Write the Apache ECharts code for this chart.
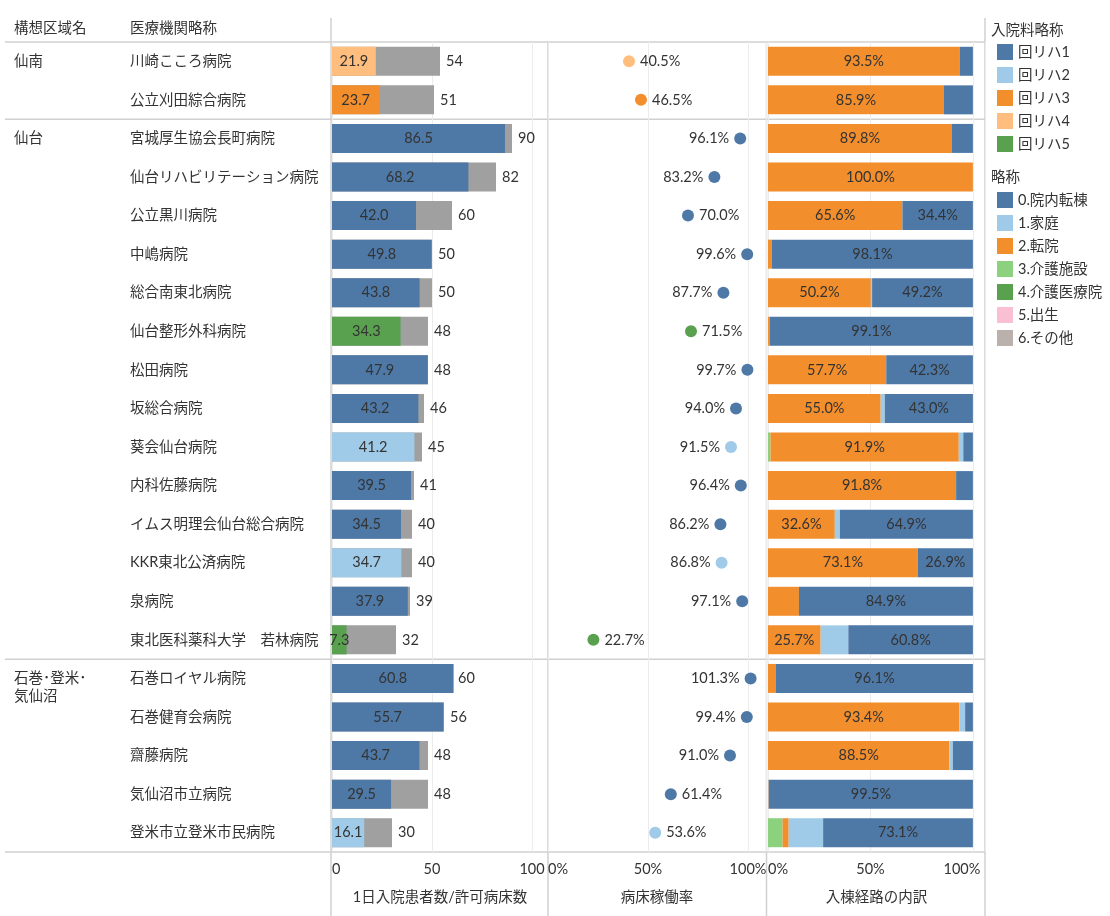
<!DOCTYPE html>
<html lang="ja">
<head>
<meta charset="UTF-8">
<title>回復期リハビリテーション病棟</title>
<script src="https://cdn.jsdelivr.net/npm/echarts@6/dist/echarts.min.js"></script>
<style>
  html, body { margin: 0; padding: 0; background: #fff; }
  #chart { width: 1110px; height: 916px; }
</style>
</head>
<body>
<div id="chart"></div>
<script>
// ---- data ----
const hospitals = [
  '川崎こころ病院', '公立刈田綜合病院',
  '宮城厚生協会長町病院', '仙台リハビリテーション病院', '公立黒川病院', '中嶋病院',
  '総合南東北病院', '仙台整形外科病院', '松田病院', '坂総合病院', '葵会仙台病院',
  '内科佐藤病院', 'イムス明理会仙台総合病院', 'KKR東北公済病院', '泉病院',
  '東北医科薬科大学\u3000若林病院',
  '石巻ロイヤル病院', '石巻健育会病院', '齋藤病院', '気仙沼市立病院', '登米市立登米市民病院'
];
const regions = [
  '仙南', '仙南',
  '仙台', '仙台', '仙台', '仙台', '仙台', '仙台', '仙台', '仙台', '仙台', '仙台', '仙台', '仙台', '仙台', '仙台',
  '石巻･登米･気仙沼', '石巻･登米･気仙沼', '石巻･登米･気仙沼', '石巻･登米･気仙沼', '石巻･登米･気仙沼'
];
const patients  = [21.9, 23.7, 86.5, 68.2, 42.0, 49.8, 43.8, 34.3, 47.9, 43.2, 41.2, 39.5, 34.5, 34.7, 37.9, 7.3, 60.8, 55.7, 43.7, 29.5, 16.1];
const beds      = [54, 51, 90, 82, 60, 50, 50, 48, 48, 46, 45, 41, 40, 40, 39, 32, 60, 56, 48, 48, 30];
const occupancy = [40.5, 46.5, 96.1, 83.2, 70.0, 99.6, 87.7, 71.5, 99.7, 94.0, 91.5, 96.4, 86.2, 86.8, 97.1, 22.7, 101.3, 99.4, 91.0, 61.4, 53.6];
const feeType   = ['回リハ4', '回リハ3', '回リハ1', '回リハ1', '回リハ1', '回リハ1', '回リハ1', '回リハ5', '回リハ1', '回リハ1', '回リハ2',
                   '回リハ1', '回リハ1', '回リハ2', '回リハ1', '回リハ5', '回リハ1', '回リハ1', '回リハ1', '回リハ1', '回リハ2'];

// 入棟経路の内訳 (%)
const routeInnai    = [6.5, 14.1, 10.2, 0, 34.4, 98.1, 49.2, 99.1, 42.3, 43.0, 4.7, 8.2, 64.9, 26.9, 84.9, 60.8, 96.1, 3.8, 9.8, 99.5, 73.1];
const routeHome     = [0, 0, 0, 0, 0, 0, 0.6, 0, 0, 2.0, 2.2, 0, 2.5, 0, 0, 13.5, 0, 2.8, 1.7, 0, 16.8];
const routeTransfer = [93.5, 85.9, 89.8, 100.0, 65.6, 1.9, 50.2, 0.9, 57.7, 55.0, 91.9, 91.8, 32.6, 73.1, 15.1, 25.7, 3.9, 93.4, 88.5, 0, 3.0];
const routeCare     = [0, 0, 0, 0, 0, 0, 0, 0, 0, 0, 1.2, 0, 0, 0, 0, 0, 0, 0, 0, 0, 7.1];
const routeMedCare  = [0, 0, 0, 0, 0, 0, 0, 0, 0, 0, 0, 0, 0, 0, 0, 0, 0, 0, 0, 0, 0];
const routeBirth    = [0, 0, 0, 0, 0, 0, 0, 0, 0, 0, 0, 0, 0, 0, 0, 0, 0, 0, 0, 0, 0];
const routeOther    = [0, 0, 0, 0, 0, 0, 0, 0, 0, 0, 0, 0, 0, 0, 0, 0, 0, 0, 0, 0.5, 0];

const feeNames   = ['回リハ1', '回リハ2', '回リハ3', '回リハ4', '回リハ5'];
const feeColors  = ['#4e79a7', '#a0cbe8', '#f28e2b', '#ffbe7d', '#59a14f'];
const routeNames = ['0.院内転棟', '1.家庭', '2.転院', '3.介護施設', '4.介護医療院', '5.出生', '6.その他'];
const routeColors = ['#4e79a7', '#a0cbe8', '#f28e2b', '#8cd17d', '#59a14f', '#fabfd2', '#bab0ac'];
const routeData = [routeInnai, routeHome, routeTransfer, routeCare, routeMedCare, routeBirth, routeOther];

// ---- layout ----
const FONT = 'Lato, "Noto Sans CJK JP", sans-serif';
const FS = 14.5;
const TXT = '#333';
const TOP = 42, PLOT_H = 810, ROW_H = PLOT_H / hospitals.length;
const LINE = '#d0d0d0';

const chart = echarts.init(document.getElementById('chart'));

// first row of each region gets the label
const regionLabels = regions.map((r, i) => {
  if (i > 0 && regions[i - 1] === r) return '';
  return r.length > 6 ? '\u3000\n' + r.slice(0, 6) + '\n' + r.slice(6) : r;
});

const grid = (left, width) => ({ left, width, top: TOP, height: PLOT_H, outerBoundsMode: 'none' });

const valueAxis = (gridIndex, max, name, fmt) => ({
  type: 'value', gridIndex, min: 0, max, interval: 50,
  name, nameLocation: 'middle', nameGap: 38,
  nameTextStyle: { fontFamily: FONT, fontSize: FS, color: TXT },
  axisLine: { show: false }, axisTick: { show: false },
  axisLabel: { margin: 10, fontFamily: FONT, fontSize: FS, color: TXT, alignMinLabel: 'left', formatter: fmt,
    rich: { r: { fontFamily: FONT, fontSize: FS, color: TXT, padding: [0, 22, 0, 0] } } },
  splitLine: { show: true, lineStyle: { color: '#ececec', width: 1 } }
});

const catAxis = (gridIndex, extra) => Object.assign({
  type: 'category', gridIndex, inverse: true, data: hospitals,
  axisLine: { show: false }, axisTick: { show: false }, splitLine: { show: false }
}, extra);

const series = [];

// panel 1: beds (gray) behind patients (coloured by 入院料)
series.push({
  type: 'bar', name: '許可病床数', xAxisIndex: 0, yAxisIndex: 0,
  data: beds, barWidth: 29, barGap: '-100%', z: 1,
  itemStyle: { color: '#a0a0a0' },
  label: { show: true, position: 'right', distance: 6, fontFamily: FONT, fontSize: FS, color: TXT },
  silent: true
});
feeNames.forEach((f, k) => {
  series.push({
    type: 'bar', name: f, xAxisIndex: 0, yAxisIndex: 0,
    data: patients.map((v, i) => feeType[i] === f ? v : '-'),
    barWidth: 29, barGap: '-100%', z: 2,
    itemStyle: { color: feeColors[k] },
    label: { show: true, position: 'inside', fontFamily: FONT, fontSize: FS, color: TXT,
      formatter: p => p.value.toFixed(1) }
  });
});

// panel 2: occupancy dots
feeNames.forEach((f, k) => {
  const pts = [];
  occupancy.forEach((v, i) => {
    if (feeType[i] !== f) return;
    pts.push({ value: [v, i], label: { position: v >= 80 ? 'left' : 'right' } });
  });
  series.push({
    type: 'scatter', name: f, xAxisIndex: 1, yAxisIndex: 2,
    data: pts, symbolSize: 12, itemStyle: { color: feeColors[k], opacity: 1 },
    label: { show: true, distance: 5, fontFamily: FONT, fontSize: FS, color: TXT,
      formatter: p => p.value[0].toFixed(1) + '%' }
  });
});

// panel 3: 入棟経路 stacked (6 → 0 from the left)
for (let k = routeNames.length - 1; k >= 0; k--) {
  series.push({
    type: 'bar', name: routeNames[k], xAxisIndex: 2, yAxisIndex: 3, stack: 'route',
    data: routeData[k], barWidth: 29,
    itemStyle: { color: routeColors[k] },
    label: { show: true, position: 'inside', fontFamily: FONT, fontSize: FS, color: TXT,
      formatter: p => p.value >= 20 ? p.value.toFixed(1) + '%' : '' }
  });
}

// table rules
const hLine = y => ({ type: 'line', silent: true, shape: { x1: 5, y1: y, x2: 985, y2: y }, style: { stroke: LINE, lineWidth: 1.5 } });
const vLine = (x, y1) => ({ type: 'line', silent: true, shape: { x1: x, y1, x2: x, y2: 916 }, style: { stroke: LINE, lineWidth: 1.5 } });
const groupBreaks = [0];
regions.forEach((r, i) => { if (i > 0 && regions[i - 1] !== r) groupBreaks.push(i); });
groupBreaks.push(regions.length);

const titleStyle = { fontFamily: FONT, fontSize: FS, fontWeight: 'normal', color: TXT };

chart.setOption({
  animation: false,
  backgroundColor: '#fff',
  textStyle: { fontFamily: FONT },
  title: [
    { text: '構想区域名', left: 14, top: 21, padding: 0, textStyle: titleStyle },
    { text: '医療機関略称', left: 130, top: 21, padding: 0, textStyle: titleStyle },
    { text: '入院料略称', left: 991, top: 23, padding: 0, textStyle: titleStyle },
    { text: '略称', left: 991, top: 170, padding: 0, textStyle: titleStyle }
  ],
  legend: [
    { data: feeNames, orient: 'vertical', left: 997, top: 44, padding: 0, itemWidth: 16, itemHeight: 16, itemGap: 7,
      icon: 'rect', selectedMode: false, textStyle: { fontFamily: FONT, fontSize: FS, color: TXT } },
    { data: routeNames, orient: 'vertical', left: 997, top: 192, padding: 0, itemWidth: 16, itemHeight: 16, itemGap: 7,
      icon: 'rect', selectedMode: false, textStyle: { fontFamily: FONT, fontSize: FS, color: TXT } }
  ],
  grid: [grid(332, 216), grid(548, 218), grid(768, 217)],
  xAxis: [
    valueAxis(0, 108, '1日入院患者数/許可病床数', v => v % 50 === 0 ? String(v) : ''),
    valueAxis(1, 109, '病床稼働率', v => v % 50 === 0 ? v + '%' : ''),
    valueAxis(2, 105.9, '入棟経路の内訳', v => v === 100 ? '{r|100%}' : (v % 50 === 0 ? v + '%' : ''))
  ],
  yAxis: [
    catAxis(0, { axisLabel: { interval: 0, margin: 202, align: 'left', fontFamily: FONT, fontSize: FS, color: TXT } }),
    catAxis(0, { data: regionLabels, position: 'left',
      axisLabel: { interval: 0, margin: 318, align: 'left', lineHeight: 18, fontFamily: FONT, fontSize: FS, color: TXT } }),
    catAxis(1, { show: false }),
    catAxis(2, { show: false })
  ],
  graphic: [
    ...groupBreaks.map(k => hLine(TOP + k * ROW_H)),
    vLine(331, 18), vLine(548, TOP), vLine(766.5, TOP), vLine(985, 18)
  ],
  series
});
</script>
</body>
</html>
